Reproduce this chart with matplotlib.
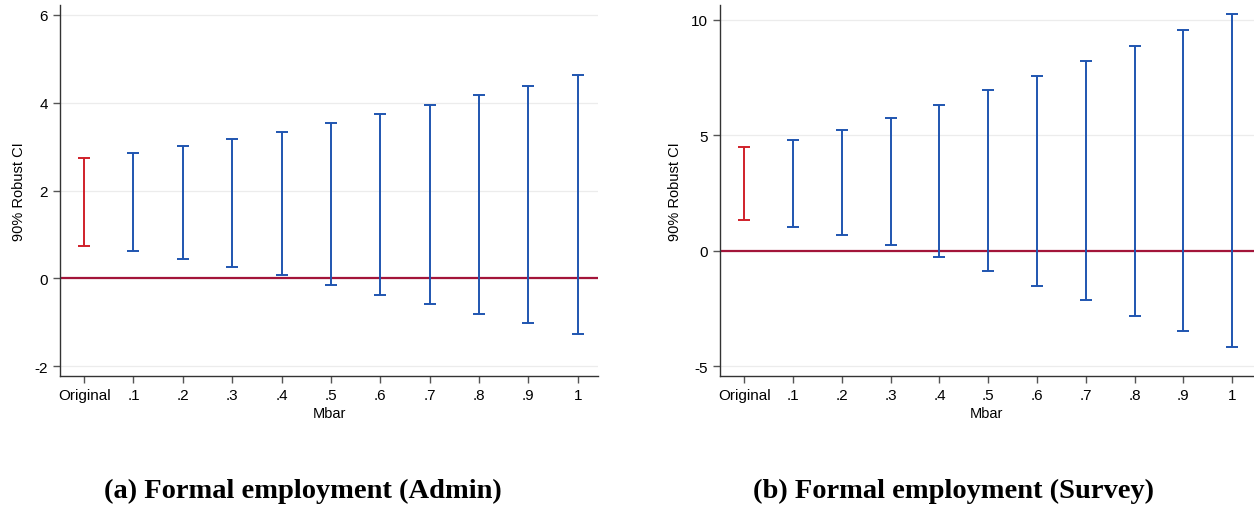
import matplotlib
matplotlib.use("Agg")
import matplotlib.pyplot as plt
import numpy as np

plt.rcParams["font.family"] = ["Liberation Sans", "DejaVu Sans"]

tick_labels = ["Original", ".1", ".2", ".3", ".4", ".5", ".6", ".7", ".8", ".9", "1"]

# 90% robust confidence bounds, formal employment (admin data)
admin_lb = [0.74, 0.63, 0.45, 0.26, 0.07, -0.15, -0.37, -0.59, -0.80, -1.02, -1.27]
admin_ub = [2.74, 2.86, 3.01, 3.17, 3.34, 3.54, 3.74, 3.95, 4.17, 4.39, 4.63]

# 90% robust confidence bounds, formal employment (survey data)
survey_lb = [1.33, 1.03, 0.68, 0.25, -0.29, -0.87, -1.52, -2.14, -2.83, -3.50, -4.16]
survey_ub = [4.51, 4.81, 5.25, 5.77, 6.33, 6.97, 7.57, 8.24, 8.89, 9.58, 10.25]

admin_yticks = [-2, 0, 2, 4, 6]
survey_yticks = [-5, 0, 5, 10]

RED = "#d0202a"
BLUE = "#1f55b0"
ZERO = "#a3153a"


def ci_panel(ax, lb, ub, yticks, ylim, xlim):
    x = np.arange(len(tick_labels))
    lb = np.asarray(lb)
    ub = np.asarray(ub)
    mid = (lb + ub) / 2
    err = [mid - lb, ub - mid]
    ax.axhline(0, color=ZERO, lw=1.6, zorder=2)
    # first interval is the original estimate, the rest the Mbar sensitivity grid
    ax.errorbar(x[:1], mid[:1], yerr=[err[0][:1], err[1][:1]], fmt="none",
                ecolor=RED, elinewidth=1.4, capsize=4, capthick=1.4, zorder=3)
    ax.errorbar(x[1:], mid[1:], yerr=[err[0][1:], err[1][1:]], fmt="none",
                ecolor=BLUE, elinewidth=1.4, capsize=4, capthick=1.4, zorder=3)
    ax.set_xticks(x)
    ax.set_xticklabels(tick_labels)
    ax.set_yticks(yticks)
    ax.set_yticklabels([str(t) for t in yticks])
    ax.set_xlim(*xlim)
    ax.set_ylim(*ylim)
    ax.grid(axis="y", color="#ececec", lw=0.9)
    ax.set_axisbelow(True)
    for side in ("top", "right"):
        ax.spines[side].set_visible(False)
    for side in ("left", "bottom"):
        ax.spines[side].set_color("#333333")
        ax.spines[side].set_linewidth(1.0)
    ax.tick_params(axis="both", labelsize=11, length=5, color="#555555", width=1.0)
    ax.set_xlabel("Mbar", fontsize=10.5, labelpad=3)
    ax.set_ylabel("90% Robust CI", fontsize=10.5, labelpad=6)


fig = plt.figure(figsize=(12.54, 5.10), dpi=100)
ax1 = fig.add_axes([0.0478, 0.2608, 0.4291, 0.728])
ax2 = fig.add_axes([0.5738, 0.2608, 0.4262, 0.728])

ci_panel(ax1, admin_lb, admin_ub, admin_yticks, (-2.22, 6.23), (-0.49, 10.41))
ci_panel(ax2, survey_lb, survey_ub, survey_yticks, (-5.43, 10.66), (-0.51, 10.45))

caption_font = dict(fontsize=20.5, fontweight="bold",
                    family=["Liberation Serif", "DejaVu Serif"])
fig.text(0.2415, 0.0235, "(a) Formal employment (Admin)", ha="center",
         va="baseline", **caption_font)
fig.text(0.7605, 0.0235, "(b) Formal employment (Survey)", ha="center",
         va="baseline", **caption_font)

fig.savefig("out.png", dpi=100)
plt.close(fig)
